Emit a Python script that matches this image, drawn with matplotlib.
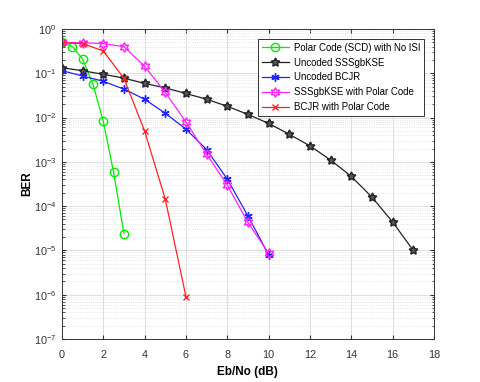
import matplotlib
matplotlib.use("Agg")
import matplotlib.pyplot as plt
from matplotlib.ticker import LogLocator, NullFormatter

plt.rcParams["font.family"] = ["Liberation Sans", "DejaVu Sans"]

# ---- data ----
x_scd = [0, 0.5, 1, 1.5, 2, 2.5, 3]
ber_scd = [0.5, 0.40, 0.21, 0.057, 0.0083, 5.8e-4, 2.4e-5]

x_sss = list(range(0, 18))
ber_sss = [0.134, 0.114, 0.095, 0.078, 0.059, 0.047, 0.035, 0.026, 0.018, 0.0118,
           0.0074, 0.0042, 0.0023, 0.0011, 4.7e-4, 1.6e-4, 4.4e-5, 1.0e-5]

x_bcjr = list(range(0, 11))
ber_bcjr = [0.115, 0.087, 0.066, 0.044, 0.026, 0.0125, 0.0055, 0.0019, 4.1e-4, 6e-5, 8e-6]

x_sss_polar = list(range(0, 11))
ber_sss_polar = [0.5, 0.49, 0.47, 0.40, 0.144, 0.037, 0.008, 0.0015, 3.0e-4, 4.3e-5, 8.6e-6]

x_bcjr_polar = list(range(0, 7))
ber_bcjr_polar = [0.49, 0.47, 0.32, 0.077, 0.005, 1.45e-4, 9.1e-7]

labels = ["Polar Code (SCD) with No ISI", "Uncoded SSSgbKSE", "Uncoded BCJR",
          "SSSgbKSE with Polar Code", "BCJR with Polar Code"]
y_decades = [1e-7, 1e-6, 1e-5, 1e-4, 1e-3, 1e-2, 1e-1, 1e0]

fig = plt.figure(figsize=(4.8, 3.82), dpi=100)
ax = fig.add_axes([0.129, 0.1126, 0.775, 0.8114])

ax.semilogy(x_scd, ber_scd, color="#00ee00", marker="o", mfc="none", ms=6, lw=0.9, label=labels[0])
ax.semilogy(x_sss, ber_sss, color="#222222", marker=(5, 1, 0), mfc="#555555", ms=6.5, lw=0.9, label=labels[1])
ax.semilogy(x_bcjr, ber_bcjr, color="#2222ff", marker=(6, 2, 0), ms=6, lw=0.9, label=labels[2])
ax.semilogy(x_sss_polar, ber_sss_polar, color="#ff22ff", marker=(6, 1, 0), mfc="none", ms=7, lw=0.9, label=labels[3])
ax.semilogy(x_bcjr_polar, ber_bcjr_polar, color="#ff2222", marker="x", ms=5, lw=0.9, label=labels[4])

ax.set_xlim(0, 18)
ax.set_ylim(1e-7, 1)
ax.set_xticks(range(0, 19, 2))
ax.set_yticks(y_decades)
ax.yaxis.set_minor_locator(LogLocator(base=10, subs=range(2, 10), numticks=100))
ax.yaxis.set_minor_formatter(NullFormatter())

ax.grid(True, which="major", color="#dddddd", lw=0.7)
ax.grid(True, axis="y", which="minor", color="#dddddd", lw=0.6, ls=":")
ax.set_axisbelow(True)
ax.tick_params(which="both", direction="in", top=True, right=True, colors="#333333", labelsize=7.8)
ax.tick_params(which="major", length=3)
ax.tick_params(which="minor", length=1.8)
ax.tick_params(axis="x", pad=8)
ax.tick_params(axis="y", pad=4)
for s in ax.spines.values():
    s.set_color("#333333")
    s.set_linewidth(0.7)

ax.set_xlabel("Eb/No (dB)", fontweight="bold", fontsize=8.5, labelpad=4)
ax.set_ylabel("BER", fontweight="bold", fontsize=8.5)
ax.yaxis.set_label_coords(-0.078, 0.5)

leg = ax.legend(loc="upper right", fontsize=6.9, fancybox=False, framealpha=1,
                edgecolor="#333333", borderpad=0.4, labelspacing=0.5,
                handlelength=2.8, handletextpad=0.5, borderaxespad=0,
                bbox_to_anchor=(0.973, 0.968))
leg.get_frame().set_linewidth(0.7)

fig.savefig("out.png", dpi=100)
